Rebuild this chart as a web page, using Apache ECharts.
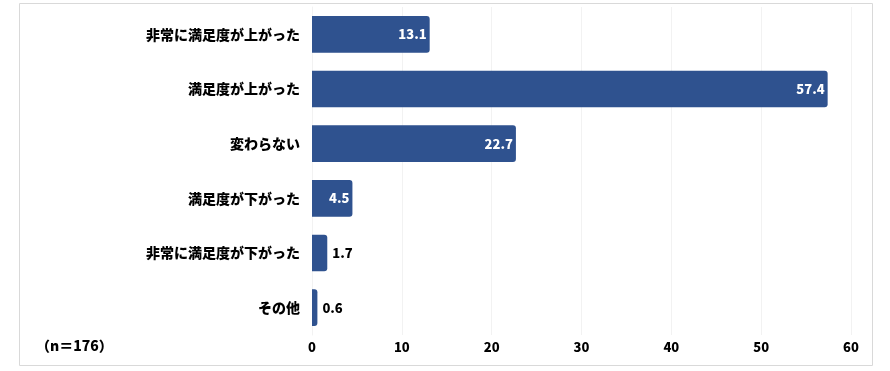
<!DOCTYPE html>
<html><head><meta charset="utf-8">
<script src="https://cdn.jsdelivr.net/npm/echarts@6/dist/echarts.min.js"></script>
<style>html,body{margin:0;padding:0;background:#fff}#c{width:890px;height:371px}</style>
</head><body><div id="c"></div>
<script>
const categories = ['非常に満足度が上がった','満足度が上がった','変わらない','満足度が下がった','非常に満足度が下がった','その他'];
const values = [13.1, 57.4, 22.7, 4.5, 1.7, 0.6];
const xTicks = [0, 10, 20, 30, 40, 50, 60];
const sampleNote = '（n＝176）';

const font = '"Noto Sans CJK JP", "Noto Sans", sans-serif';
const chart = echarts.init(document.getElementById('c'));
chart.setOption({
  animation: false,
  grid: {left: 312, right: 39, top: 7, bottom: 36, containLabel: false},
  xAxis: {
    type: 'value', min: xTicks[0], max: xTicks[xTicks.length-1], interval: 10,
    axisLine: {show: false}, axisTick: {show: false},
    splitLine: {show: true, lineStyle: {color: '#f2f2f2', width: 1}},
    axisLabel: {color: '#000', fontFamily: font, fontWeight: 900, fontSize: 13, margin: 6}
  },
  yAxis: {
    type: 'category', data: categories, inverse: true,
    axisLine: {show: true, lineStyle: {color: '#f2f2f2'}}, axisTick: {show: false},
    axisLabel: {color: '#000', fontFamily: font, fontWeight: 900, fontSize: 14, margin: 12}
  },
  series: [{
    type: 'bar', barWidth: '67%',
    itemStyle: {color: '#2F528F', borderRadius: [0, 3, 3, 0]},
    data: values.map(v => ({
      value: v,
      label: v >= 4 ? {show: true, position: 'insideRight', color: '#fff', offset: [2, 0]}
                    : {show: true, position: 'right', color: '#000', distance: 5}
    })),
    label: {fontFamily: font, fontWeight: 900, fontSize: 13, formatter: p => p.value.toFixed(1)}
  }],
  graphic: [
    {type: 'rect', shape: {x: 19.5, y: 3.5, width: 853, height: 362}, style: {fill: null, stroke: '#d9d9d9', lineWidth: 1}, silent: true, z: -1},
    {type: 'text', left: 36, top: 339, style: {text: sampleNote, fill: '#000', font: '900 14px ' + font}}
  ]
});
</script></body></html>
